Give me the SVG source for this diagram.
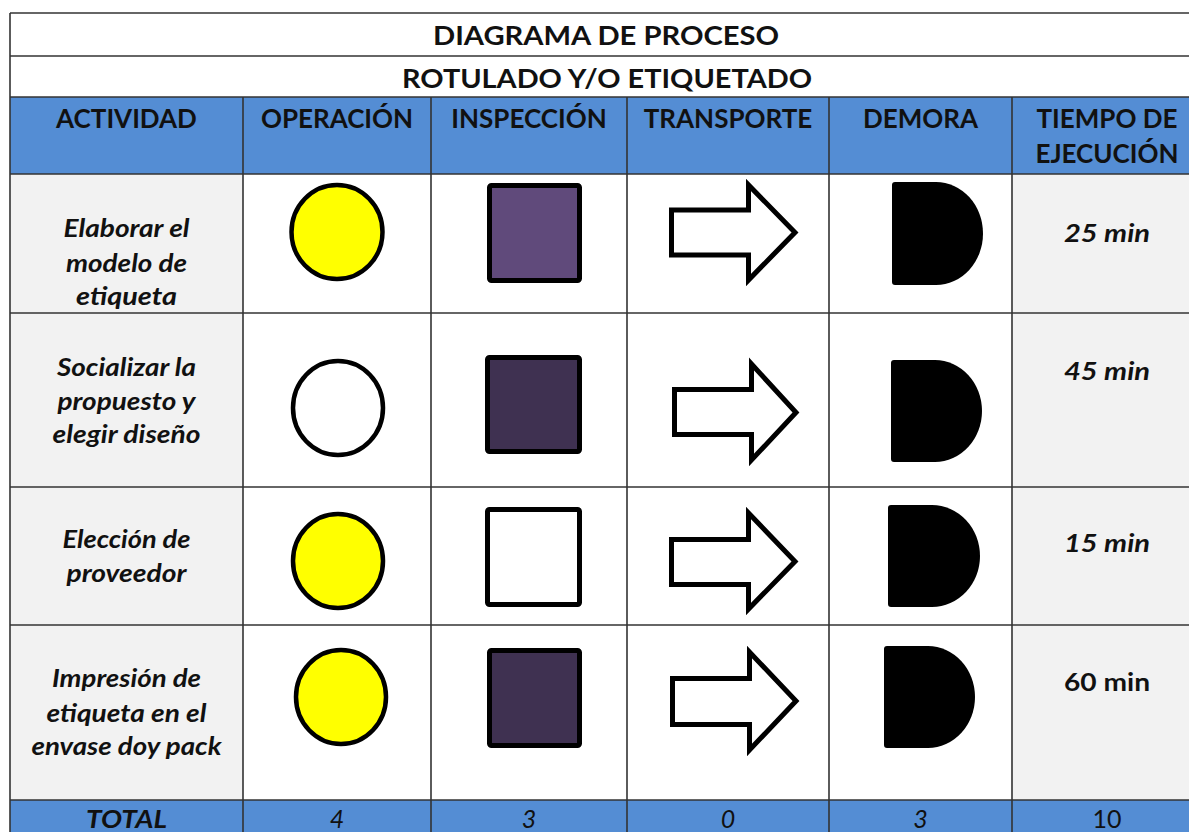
<svg xmlns="http://www.w3.org/2000/svg" width="1189" height="832" viewBox="0 0 1189 832">
<style>
.t{font-family:Lato,"Open Sans","Liberation Sans",sans-serif;fill:#111;text-anchor:middle}
.h{font-size:26px;font-weight:bold}
.a{font-size:24px;font-weight:bold;font-style:italic}
.m{font-size:25px;font-weight:bold}
.n{font-size:25px}
.grid line{stroke:#333;stroke-width:1.6}
.op{stroke:#000;stroke-width:4.5}
.sq{stroke:#000;stroke-width:5}
.ar{fill:#fff;stroke:#000;stroke-width:5;stroke-linejoin:miter}
.dl{fill:#000}
</style>
<g id="backgrounds">
<rect x="10" y="13" width="1190" height="84" fill="#fff"/>
<rect x="10" y="97" width="1190" height="77" fill="#548DD4"/>
<rect x="10" y="174" width="233" height="626" fill="#F2F2F2"/>
<rect x="243" y="174" width="769" height="626" fill="#fff"/>
<rect x="1012" y="174" width="190" height="626" fill="#F2F2F2"/>
<rect x="10" y="800" width="1190" height="40" fill="#548DD4"/>
</g>
<g id="grid" class="grid">
<line x1="10" y1="13" x2="1200" y2="13"/>
<line x1="10" y1="56" x2="1200" y2="56"/>
<line x1="10" y1="97" x2="1200" y2="97"/>
<line x1="10" y1="174" x2="1200" y2="174"/>
<line x1="10" y1="313" x2="1200" y2="313"/>
<line x1="10" y1="487" x2="1200" y2="487"/>
<line x1="10" y1="625" x2="1200" y2="625"/>
<line x1="10" y1="800" x2="1200" y2="800"/>
<line x1="10" y1="13" x2="10" y2="832"/>
<line x1="243" y1="97" x2="243" y2="832"/>
<line x1="431" y1="97" x2="431" y2="832"/>
<line x1="627" y1="97" x2="627" y2="832"/>
<line x1="829" y1="97" x2="829" y2="832"/>
<line x1="1012" y1="97" x2="1012" y2="832"/>
</g>
<g id="title">
<text class="t h" x="606" y="45" textLength="346" lengthAdjust="spacingAndGlyphs">DIAGRAMA DE PROCESO</text>
<text class="t h" x="607" y="88" textLength="410" lengthAdjust="spacingAndGlyphs">ROTULADO Y/O ETIQUETADO</text>
</g>
<g id="header">
<text class="t h" x="126.5" y="128">ACTIVIDAD</text>
<text class="t h" x="337" y="128">OPERACIÓN</text>
<text class="t h" x="529" y="128">INSPECCIÓN</text>
<text class="t h" x="728" y="128">TRANSPORTE</text>
<text class="t h" x="920.5" y="128">DEMORA</text>
<text class="t h" x="1107" y="128">TIEMPO DE</text>
<text class="t h" x="1107" y="163">EJECUCIÓN</text>
</g>
<g id="row1">
<text class="t a" x="126.5" y="237" textLength="126" lengthAdjust="spacingAndGlyphs">Elaborar el</text>
<text class="t a" x="126.5" y="272" textLength="121" lengthAdjust="spacingAndGlyphs">modelo de</text>
<text class="t a" x="126.5" y="305" textLength="101" lengthAdjust="spacingAndGlyphs">etiqueta</text>
<ellipse class="op" cx="337" cy="232" rx="45.5" ry="47" fill="#FFFF00"/>
<rect class="sq" x="489.5" y="185.5" width="90" height="95" rx="2" fill="#604A7B"/>
<polygon class="ar" points="671.5,210 748.5,210 748.5,185 795,232.5 748.5,280 748.5,255 671.5,255"/>
<path class="dl" d="M895,182 H936 A47,51.5 0 0 1 936,285 H895 Q892,285 892,282 V185 Q892,182 895,182 Z"/>
<text class="t a" x="1107" y="242" textLength="86" lengthAdjust="spacingAndGlyphs">25 min</text>
</g>
<g id="row2">
<text class="t a" x="126.5" y="376" textLength="139" lengthAdjust="spacingAndGlyphs">Socializar la</text>
<text class="t a" x="126.5" y="410" textLength="138" lengthAdjust="spacingAndGlyphs">propuesto y</text>
<text class="t a" x="126.5" y="443" textLength="148" lengthAdjust="spacingAndGlyphs">elegir diseño</text>
<ellipse class="op" cx="338" cy="408" rx="45" ry="47" fill="#fff"/>
<rect class="sq" x="487.5" y="357.5" width="92" height="94" rx="2" fill="#3F3151"/>
<polygon class="ar" points="674.5,389.5 751.5,389.5 751.5,364 796,412.5 751.5,460 751.5,434.5 674.5,434.5"/>
<path class="dl" d="M894,360 H935 A47,51 0 0 1 935,462 H894 Q891,462 891,459 V363 Q891,360 894,360 Z"/>
<text class="t a" x="1107" y="380" textLength="86" lengthAdjust="spacingAndGlyphs">45 min</text>
</g>
<g id="row3">
<text class="t a" x="126.5" y="548" textLength="128" lengthAdjust="spacingAndGlyphs">Elección de</text>
<text class="t a" x="126.5" y="582" textLength="120" lengthAdjust="spacingAndGlyphs">proveedor</text>
<ellipse class="op" cx="338" cy="561" rx="45" ry="47" fill="#FFFF00"/>
<rect class="sq" x="487.5" y="509.5" width="92" height="95" rx="2" fill="#fff"/>
<polygon class="ar" points="671.5,539.5 748.5,539.5 748.5,513 795,561.5 748.5,609 748.5,584.5 671.5,584.5"/>
<path class="dl" d="M891,505 H932 A48,51 0 0 1 932,607 H891 Q888,607 888,604 V508 Q888,505 891,505 Z"/>
<text class="t a" x="1107" y="552" textLength="86" lengthAdjust="spacingAndGlyphs">15 min</text>
</g>
<g id="row4">
<text class="t a" x="126.5" y="687" textLength="149" lengthAdjust="spacingAndGlyphs">Impresión de</text>
<text class="t a" x="126.5" y="722" textLength="160" lengthAdjust="spacingAndGlyphs">etiqueta en el</text>
<text class="t a" x="126.5" y="755" textLength="190" lengthAdjust="spacingAndGlyphs">envase doy pack</text>
<ellipse class="op" cx="341" cy="697" rx="45" ry="47" fill="#FFFF00"/>
<rect class="sq" x="489.5" y="650.5" width="90" height="95" rx="2" fill="#3F3151"/>
<polygon class="ar" points="672.5,678.5 749.5,678.5 749.5,652 796,701 749.5,750 749.5,724.5 672.5,724.5"/>
<path class="dl" d="M887,646 H928 A47,51 0 0 1 928,748 H887 Q884,748 884,745 V649 Q884,646 887,646 Z"/>
<text class="t m" x="1107" y="691" textLength="86" lengthAdjust="spacingAndGlyphs">60 min</text>
</g>
<g id="total">
<text class="t a" x="126.5" y="828" textLength="81" lengthAdjust="spacingAndGlyphs" style="font-size:25px">TOTAL</text>
<text class="t n" x="337" y="828" font-style="italic">4</text>
<text class="t n" x="529" y="828" font-style="italic">3</text>
<text class="t n" x="728" y="828" font-style="italic">0</text>
<text class="t n" x="920.5" y="828" font-style="italic">3</text>
<text class="t n" x="1107" y="828">10</text>
</g>
</svg>
